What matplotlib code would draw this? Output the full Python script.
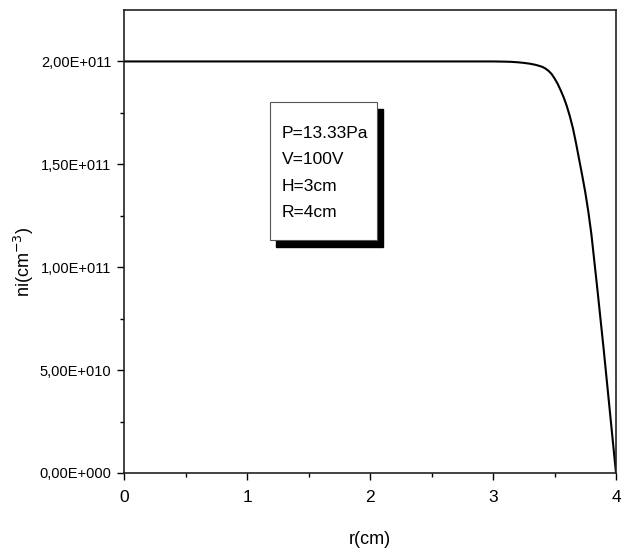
"""Densidad ionica ni(r)"""

import matplotlib
matplotlib.use('Agg')
import matplotlib.pyplot as plt
from matplotlib.patches import Rectangle
from matplotlib.ticker import FixedLocator

plt.rcParams['font.family'] = ['Liberation Sans', 'DejaVu Sans']

# datos
r = [0.0, 1.0, 2.0, 3.0, 3.05, 3.1, 3.15, 3.2, 3.25, 3.3, 3.35, 3.4, 3.425,
     3.45, 3.475, 3.5, 3.525, 3.55, 3.575, 3.6, 3.625, 3.65, 3.675, 3.7,
     3.725, 3.75, 3.775, 3.8, 3.85, 3.9, 3.95, 4.0]
ni = [2.0e11, 2.0e11, 2.0e11, 2.0e11, 1.9995e11, 1.999e11, 1.998e11, 1.996e11,
      1.993e11, 1.989e11, 1.983e11, 1.974e11, 1.966e11, 1.955e11, 1.94e11,
      1.918e11, 1.892e11, 1.86e11, 1.825e11, 1.783e11, 1.733e11, 1.675e11,
      1.603e11, 1.525e11, 1.447e11, 1.365e11, 1.27e11, 1.16e11, 0.885e11,
      0.60e11, 0.30e11, 0.0]

x_ticks = [0, 1, 2, 3, 4]
x_minor = [0.5, 1.5, 2.5, 3.5]
y_ticks = [0.0, 0.5e11, 1.0e11, 1.5e11, 2.0e11]
y_minor = [0.25e11, 0.75e11, 1.25e11, 1.75e11]
y_tick_labels = ['0,00E+000', '5,00E+010', '1,00E+011', '1,50E+011', '2,00E+011']
info = ['P=13.33Pa', 'V=100V', 'H=3cm', 'R=4cm']

fig = plt.figure(figsize=(6.22, 5.5), dpi=100)
ax = fig.add_axes([124 / 622, 1 - 473 / 550, 492 / 622, 463 / 550])

ax.plot(r, ni, color='black', linewidth=1.5)

ax.set_xlim(0, 4)
ax.set_ylim(0, 2.25e11)
ax.set_xticks(x_ticks)
ax.set_xticklabels([str(t) for t in x_ticks], fontsize=12.5)
ax.set_yticks(y_ticks)
ax.set_yticklabels(y_tick_labels, fontsize=10.5)
ax.xaxis.set_minor_locator(FixedLocator(x_minor))
ax.yaxis.set_minor_locator(FixedLocator(y_minor))
ax.tick_params(which='major', direction='out', length=5, width=1, pad=7)
ax.tick_params(which='minor', direction='out', length=3, width=1)
ax.tick_params(axis='y', which='major', pad=4)

for s in ax.spines.values():
    s.set_linewidth(1.2)
    s.set_color('#222222')

ax.set_xlabel('r(cm)', fontsize=13)
ax.xaxis.set_label_coords(0.5, -0.125)
ax.set_ylabel('ni(cm$^{-3}$)', fontsize=13)
ax.yaxis.set_label_coords(-0.178, 0.456)

# cuadro con sombra
x0, x1 = 0.297, 0.514
y0, y1 = 0.503, 0.801
ax.add_patch(Rectangle((x0 + 0.012, y0 - 0.015), x1 - x0, y1 - y0,
                       transform=ax.transAxes, facecolor='black',
                       edgecolor='black', zorder=3))
ax.add_patch(Rectangle((x0, y0), x1 - x0, y1 - y0, transform=ax.transAxes,
                       facecolor='white', edgecolor='#555555', linewidth=0.8,
                       zorder=4))
for i, txt in enumerate(info):
    ax.text(0.321, 0.7235 - i * 0.0568, txt, transform=ax.transAxes,
            fontsize=12.5, va='baseline', ha='left', zorder=5)

fig.savefig('out.png', dpi=100)
